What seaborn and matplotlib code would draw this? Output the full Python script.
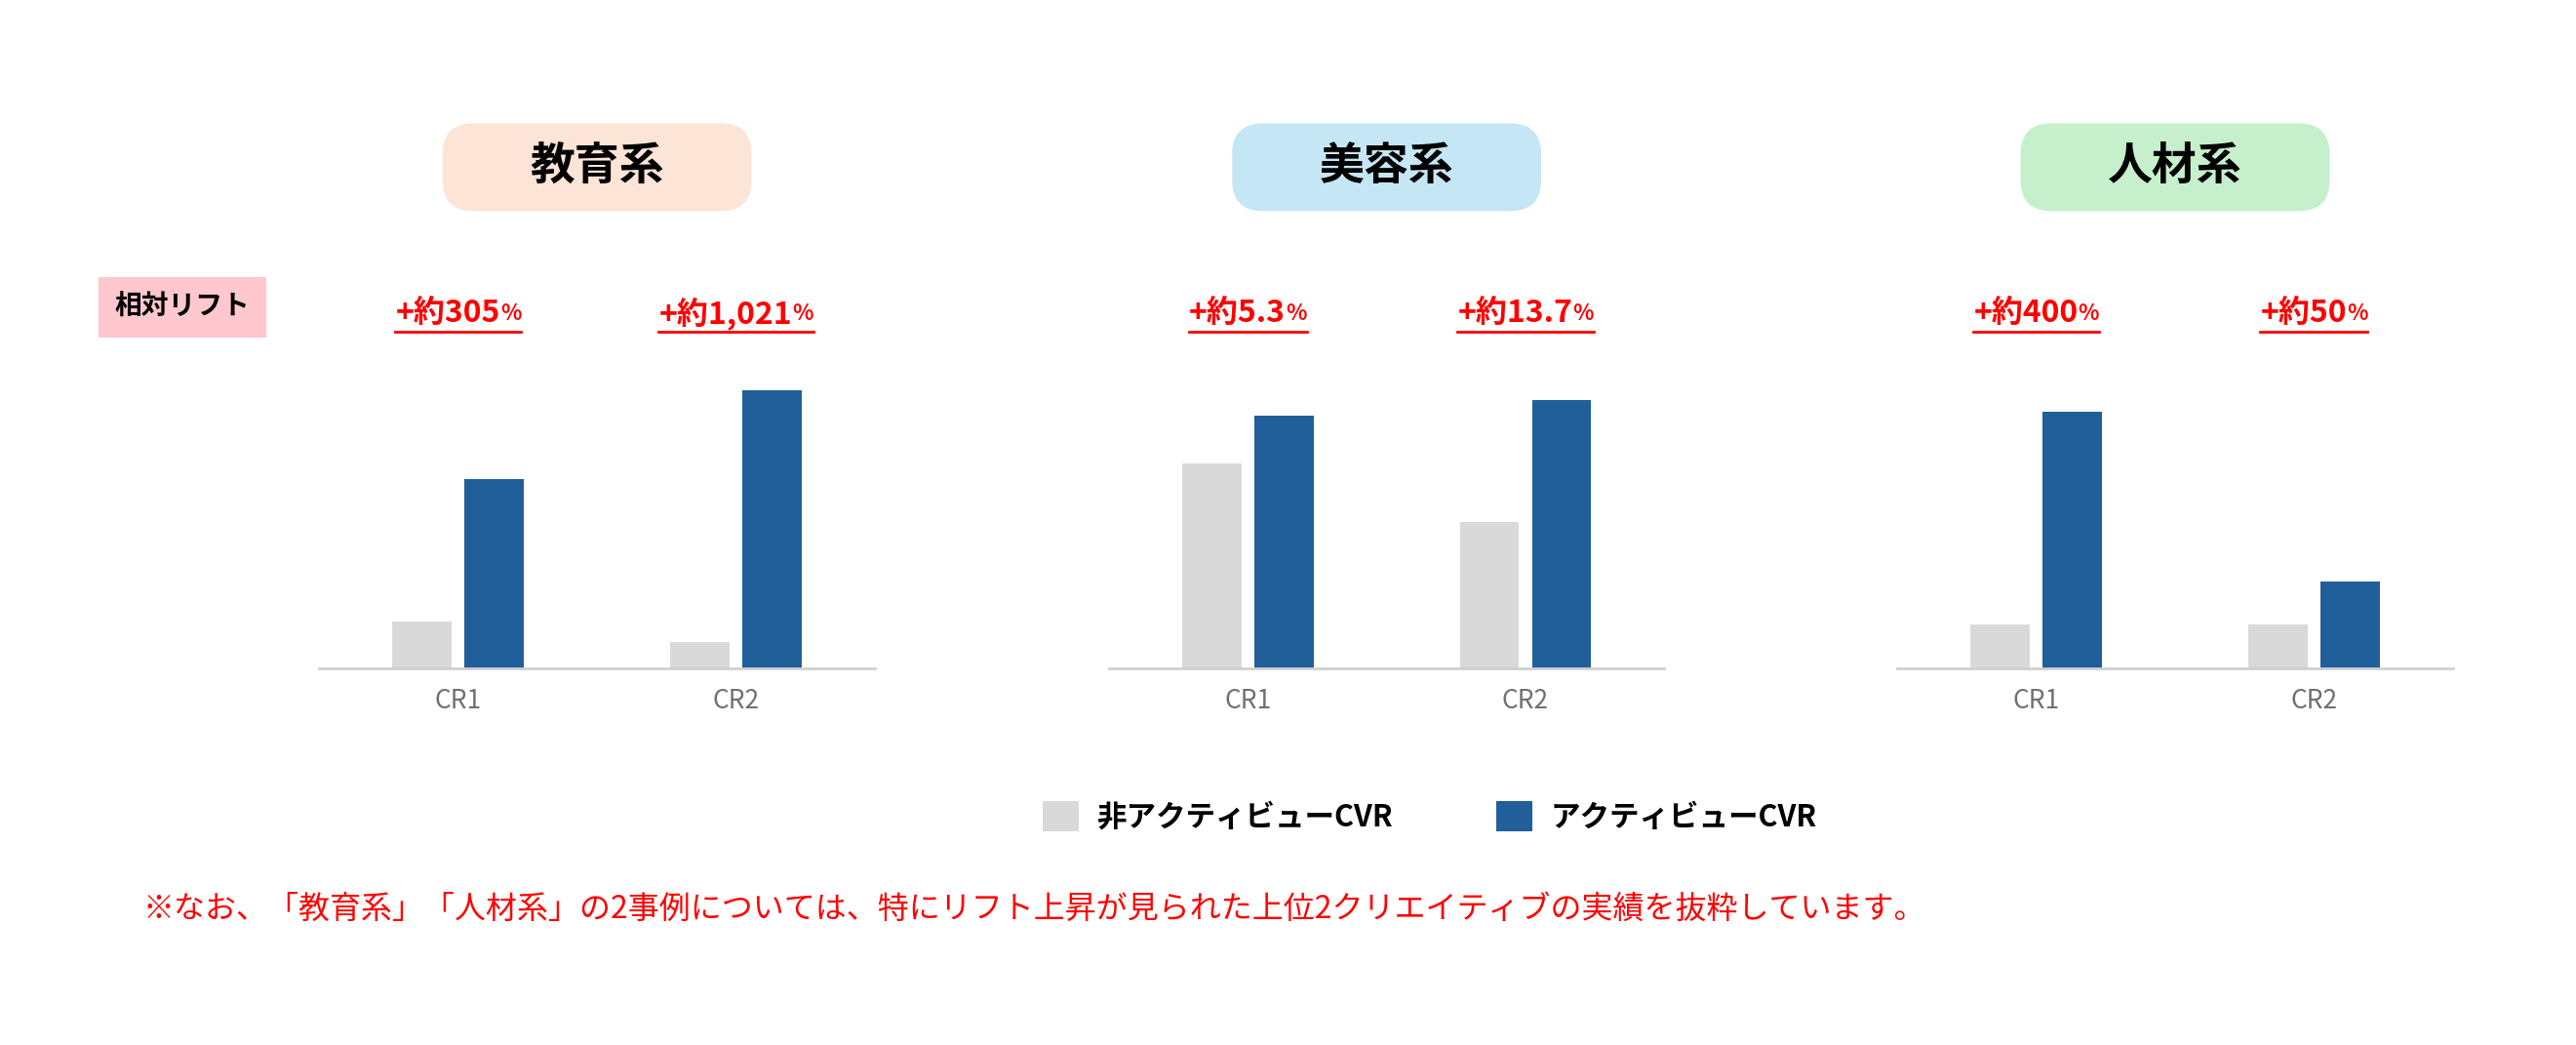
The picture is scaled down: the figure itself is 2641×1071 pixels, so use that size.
import matplotlib
matplotlib.use("Agg")
import matplotlib.pyplot as plt
import seaborn as sns
import pandas as pd
from matplotlib.lines import Line2D
from matplotlib.patches import Patch

plt.rcParams["font.family"] = "Noto Sans CJK JP"

industries = ["教育系", "美容系", "人材系"]
creatives = ["CR1", "CR2"]
series = ["非アクティビューCVR", "アクティビューCVR"]
non_active = [[29, 16], [125, 89], [27, 27]]
active = [[115, 169], [154, 163], [156, 53]]
lift_main = [["+約305", "+約1,021"], ["+約5.3", "+約13.7"], ["+約400", "+約50"]]
box_colors = ["#FCE4D6", "#C5E6F5", "#C6F0CC"]
colors = ["#D9D9D9", "#215F9A"]

fig = plt.figure(figsize=(26.41, 10.71), dpi=100)
lefts = [0.124, 0.4305, 0.7366]
axes = []
for i, name in enumerate(industries):
    ax = fig.add_axes([lefts[i], 0.36, 0.2156, 0.315])
    df = pd.DataFrame({
        "cr": creatives * 2,
        "series": [series[0]] * 2 + [series[1]] * 2,
        "value": non_active[i] + active[i],
    })
    sns.barplot(data=df, x="cr", y="value", hue="series", palette=colors,
                width=0.52, gap=0.18, ax=ax, legend=False, saturation=1)
    ax.set_ylim(0, 200)
    ax.set_xlim(-0.5, 1.5)
    ax.set_xlabel("")
    ax.set_ylabel("")
    ax.set_yticks([])
    for s in ["top", "right", "left"]:
        ax.spines[s].set_visible(False)
    ax.spines["bottom"].set_color("#D0D0D0")
    ax.spines["bottom"].set_linewidth(2)
    ax.tick_params(axis="x", length=0, labelsize=19, colors="#707070", pad=14)
    # title box
    cx = lefts[i] + 0.2156 / 2
    fig.text(cx, 0.84, name, ha="center", va="center", fontsize=33, fontweight="bold",
             bbox=dict(boxstyle="round,pad=0.45,rounding_size=0.4", fc=box_colors[i], ec="none"))
    # dummy wide box padding handled by spaces
    axes.append(ax)

# wider title boxes: redraw with padding via spaces is fragile; use fixed patches
from matplotlib.patches import FancyBboxPatch
for t in list(fig.texts):
    t.set_bbox(None)
for i in range(3):
    cx = lefts[i] + 0.2156 / 2
    fig.add_artist(FancyBboxPatch((cx - 0.06, 0.798), 0.12, 0.084,
                                  boxstyle="round,pad=0,rounding_size=0.012",
                                  fc=box_colors[i], ec="none", transform=fig.transFigure,
                                  mutation_aspect=2641 / 1071, zorder=0))

fig.text(0.0446, 0.706, "相対リフト", ha="left", va="center", fontsize=20, fontweight="bold",
         bbox=dict(boxstyle="square,pad=0.6", fc="#FFC7CE", ec="none"))

fig.canvas.draw()
renderer = fig.canvas.get_renderer()
for i, ax in enumerate(axes):
    for j in range(2):
        xf = fig.transFigure.inverted().transform(ax.transData.transform((j, 0)))[0]
        t1 = fig.text(xf, 0.70, lift_main[i][j], ha="right", va="center", color="#FF0000",
                      fontsize=23, fontweight="bold")
        t2 = fig.text(xf, 0.70, "%", ha="left", va="center", color="#FF0000",
                      fontsize=16, fontweight="bold")
        fig.canvas.draw()
        w1 = t1.get_window_extent(renderer).width / fig.bbox.width
        w2 = t2.get_window_extent(renderer).width / fig.bbox.width
        shift = (w1 - w2) / 2
        t1.set_x(xf + shift)
        t2.set_x(xf + shift)
        fig.add_artist(Line2D([xf + shift - w1, xf + shift + w2], [0.683, 0.683],
                              color="#FF0000", lw=2, transform=fig.transFigure))

handles = [Patch(fc=colors[0], ec="none"), Patch(fc=colors[1], ec="none")]
fig.legend(handles, series, loc="center", bbox_to_anchor=(0.555, 0.218), ncol=2, frameon=False,
           prop={"size": 22, "weight": "bold"}, handlelength=1.2, handleheight=1.2,
           columnspacing=3.5, handletextpad=0.6)

fig.text(0.0555, 0.13, "※なお、「教育系」「人材系」の2事例については、特にリフト上昇が見られた上位2クリエイティブの実績を抜粋しています。",
         ha="left", va="center", color="#FF0000", fontsize=23)

fig.savefig("out.png", dpi=100)
